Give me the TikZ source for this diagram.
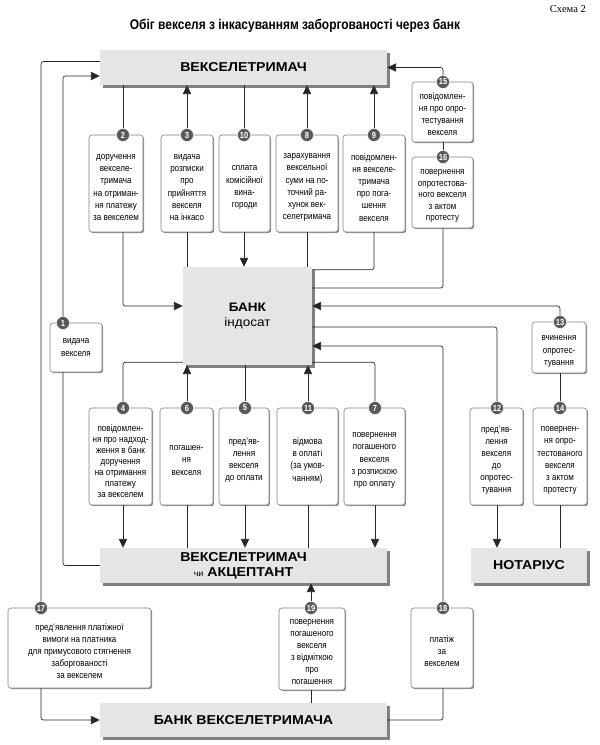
\documentclass[tikz,border=0pt]{standalone}
\usepackage{fontspec}
\setmainfont{Liberation Sans}
\newfontfamily\narrowfont[FakeStretch=0.86]{Liberation Sans}
\newfontfamily\widefont[FakeStretch=1.1]{Liberation Sans}
\newfontfamily\titlefont[FakeStretch=0.85]{Liberation Sans}
\newfontfamily\schemefont{Liberation Serif}
\usetikzlibrary{positioning,calc,shadows,arrows.meta}

\begin{document}
\begin{tikzpicture}[
    x=0.03cm,y=-0.03cm,
    wire/.style={draw=black!85,line width=0.6pt,rounded corners=2pt},
    arr/.style={wire,-{Triangle[length=7.5pt,width=7pt]}},
    sz/.style 2 args={minimum width=#1*0.03cm,minimum height=#2*0.03cm},
    party/.style={fill=black!10,inner sep=1pt,align=center,
      font=\widefont\bfseries\fontsize{11}{12.5}\selectfont,
      drop shadow={shadow xshift=2.2pt,shadow yshift=-2.2pt,fill=black!50,opacity=1}},
    opbox/.style={draw=black!50,fill=white,rounded corners=2.5pt,line width=0.5pt,
      inner sep=0pt,drop shadow={shadow xshift=1pt,shadow yshift=-1pt,fill=black!45,opacity=1}},
    optext/.style={align=center,inner sep=0pt,font=\narrowfont\fontsize{8}{10.3}\selectfont},
    num/.style={circle,fill=black!65,draw=white,line width=0.4pt,text=white,
      inner sep=0pt,minimum size=0.39cm,font=\narrowfont\bfseries\fontsize{7.5}{7.5}\selectfont}
  ]
  \useasboundingbox (0,0) rectangle (600,745);

  \node[anchor=east,font=\schemefont\fontsize{9}{10}\selectfont] (scheme) at (590,9) {Схема 2};
  \node[font=\titlefont\bfseries\fontsize{12}{14}\selectfont] (title) at (295,26)
    {Обіг векселя з інкасуванням заборгованості через банк};

  % main participants
  \node[party,sz={287}{35}] (VT) at (243.5,67.5) {ВЕКСЕЛЕТРИМАЧ};
  \node[party,sz={129}{98},font=\widefont\bfseries\fontsize{10.5}{12.5}\selectfont] (BI)
    at (247.5,316) {БАНК\\{\mdseries індосат}};
  \node[party,sz={287}{35}] (VA) at (243.5,565.5)
    {ВЕКСЕЛЕТРИМАЧ\\{\mdseries\fontsize{7}{8}\selectfont чи} АКЦЕПТАНТ};
  \node[party,sz={116}{35}] (NOT) at (529,565.5) {НОТАРІУС};
  \node[party,sz={287}{34}] (BV) at (243.5,720) {БАНК ВЕКСЕЛЕТРИМАЧА};

  % operations, upper row
  \node[opbox,sz={54}{97}] (n2) at (116,183.5) {};
  \node[optext] (t2) at ($(n2)+(0,4)$)
    {доручення\\векселе-\\тримача\\на отриман-\\ня платежу\\за векселем};
  \node[num] (c2) at (123,135) {2};
  \node[opbox,sz={52}{97}] (n3) at (187,183.5) {};
  \node[optext] (t3) at ($(n3)+(0,4)$)
    {видача\\розписки\\про\\прийняття\\векселя\\на інкасо};
  \node[num] (c3) at (187,135) {3};
  \node[opbox,sz={51}{97}] (n10) at (244.5,183.5) {};
  \node[optext] (t10) at ($(n10)+(0,4)$) {сплата\\комісійної\\вина-\\городи};
  \node[num] (c10) at (244,135) {10};
  \node[opbox,sz={62}{97}] (n8) at (307,183.5) {};
  \node[optext] (t8) at ($(n8)+(0,4)$)
    {зарахування\\вексельної\\суми на по-\\точний ра-\\хунок век-\\селетримача};
  \node[num] (c8) at (307,135) {8};
  \node[opbox,sz={62}{97}] (n9) at (374,183.5) {};
  \node[optext] (t9) at ($(n9)+(0,4)$)
    {повідомлен-\\ня векселе-\\тримача\\про пога-\\шення\\векселя};
  \node[num] (c9) at (374,135) {9};
  \node[opbox,sz={61}{60}] (n15) at (442.5,112) {};
  \node[optext] (t15) at ($(n15)+(0,2)$)
    {повідомлен-\\ня про опро-\\тестування\\векселя};
  \node[num] (c15) at (443,82) {15};
  \node[opbox,sz={61}{71}] (n16) at (442.5,192.5) {};
  \node[optext,font=\narrowfont\fontsize{8}{9.8}\selectfont] (t16) at ($(n16)+(0,3.5)$)
    {повернення\\опротестова-\\ного векселя\\з актом\\протесту};
  \node[num] (c16) at (443,157) {16};

  % operations, middle
  \node[opbox,sz={52}{49}] (n1) at (76,347.5) {};
  \node[optext] (t1) at ($(n1)+(0,0)$) {видача\\векселя};
  \node[num] (c1) at (63,323) {1};
  \node[opbox,sz={54}{51}] (n13) at (559,347.5) {};
  \node[optext] (t13) at ($(n13)+(0,4)$) {вчинення\\опротес-\\тування};
  \node[num] (c13) at (560,322) {13};

  % operations, lower row
  \node[opbox,sz={63}{97}] (n4) at (120.5,456.5) {};
  \node[optext,font=\narrowfont\fontsize{8}{9.4}\selectfont] (t4) at ($(n4)+(0,5)$)
    {повідомлен-\\ня про надход-\\ження в банк\\доручення\\на отримання\\платежу\\за векселем};
  \node[num] (c4) at (123,408) {4};
  \node[opbox,sz={53}{97}] (n6) at (186.5,456.5) {};
  \node[optext] (t6) at ($(n6)+(0,4)$) {погашен-\\ня\\векселя};
  \node[num] (c6) at (187,408) {6};
  \node[opbox,sz={50}{97}] (n5) at (244,456.5) {};
  \node[optext] (t5) at ($(n5)+(0,4)$) {пред’яв-\\лення\\векселя\\до оплати};
  \node[num] (c5) at (245,408) {5};
  \node[opbox,sz={61}{97}] (n11) at (307.5,456.5) {};
  \node[optext] (t11) at ($(n11)+(0,4)$) {відмова\\в оплаті\\(за умов-\\чанням)};
  \node[num] (c11) at (308,408) {11};
  \node[opbox,sz={61}{97}] (n7) at (374.5,456.5) {};
  \node[optext] (t7) at ($(n7)+(0,4)$)
    {повернення\\погашеного\\векселя\\з розпискою\\про оплату};
  \node[num] (c7) at (375,408) {7};
  \node[opbox,sz={53}{97}] (n12) at (496.5,456.5) {};
  \node[optext] (t12) at ($(n12)+(0,4)$)
    {пред’яв-\\лення\\векселя\\до\\опротес-\\тування};
  \node[num] (c12) at (497,408) {12};
  \node[opbox,sz={54}{97}] (n14) at (560,456.5) {};
  \node[optext] (t14) at ($(n14)+(0,4)$)
    {повернен-\\ня опро-\\тестованого\\векселя\\з актом\\протесту};
  \node[num] (c14) at (560,408) {14};

  % operations, bottom row
  \node[opbox,sz={143}{80}] (n17) at (79.5,648) {};
  \node[optext] (t17) at ($(n17)+(0,3)$)
    {пред’явлення платіжної\\вимоги на платника\\для примусового стягнення\\заборгованості\\за векселем};
  \node[num] (c17) at (41,608) {17};
  \node[opbox,sz={66}{82}] (n19) at (312,649) {};
  \node[optext] (t19) at ($(n19)+(0,3)$)
    {повернення\\погашеного\\векселя\\з відміткою\\про\\погашення};
  \node[num] (c19) at (311,608) {19};
  \node[opbox,sz={62}{80}] (n18) at (442,648) {};
  \node[optext] (t18) at ($(n18)+(0,3)$) {платіж\\за\\векселем};
  \node[num] (c18) at (443,608) {18};

  % connectors
  \draw[arr] (c1.north) |- ($(VT.west)+(0,8.5)$);
  \draw[wire] (n1.south -| c1) |- (VA.west);
  \draw[wire] ($(VT.west)+(0,-6)$) -| (c17.north);
  \draw[arr] (n17.south -| c17) |- (BV.west);
  \draw[wire] (VT.south -| c2) -- (c2.north);
  \draw[arr] (n2.south -| c2) |- ($(BI.west)+(0,-10)$);
  \draw[wire] (BI.north -| c3) -- (n3.south -| c3);
  \draw[arr] (c3.north) -- (VT.south -| c3);
  \draw[wire] (VT.south -| c10) -- (c10.north);
  \draw[arr] (n10.south -| c10) -- (BI.north -| c10);
  \draw[wire] (BI.north -| c8) -- (n8.south -| c8);
  \draw[arr] (c8.north) -- (VT.south -| c8);
  \draw[wire] ($(BI.north east)+(0,3)$) -| (n9.south -| c9);
  \draw[arr] (c9.north) -- (VT.south -| c9);
  \draw[wire] ($(BI.east)+(0,-28)$) -| (n16.south -| c16);
  \draw[wire] (c16.north) -- (n15.south -| c15);
  \draw[arr] (c15.north) |- (VT.east);
  \draw[wire] (NOT.north -| c14) -- (n14.south -| c14);
  \draw[wire] (c14.north) -- (n13.south -| c13);
  \draw[arr] (c13.north) |- ($(BI.east)+(0,-10)$);
  \draw[wire] ($(BI.east)+(0,11)$) -| (c12.north);
  \draw[arr] (n12.south -| c12) -- (NOT.north -| c12);
  \draw[wire] (BV.east) -| (n18.south -| c18);
  \draw[arr] (c18.north) |- ($(BI.east)+(0,30)$);
  \draw[wire] ($(BI.south west)+(0,-3)$) -| (c4.north);
  \draw[arr] (n4.south -| c4) -- (VA.north -| c4);
  \draw[wire] (VA.north -| c6) -- (n6.south -| c6);
  \draw[arr] (c6.north) -- (BI.south -| c6);
  \draw[wire] (BI.south -| c5) -- (c5.north);
  \draw[arr] (n5.south -| c5) -- (VA.north -| c5);
  \draw[wire] (VA.north -| c11) -- (n11.south -| c11);
  \draw[arr] (c11.north) -- (BI.south -| c11);
  \draw[wire] ($(BI.south east)+(0,-3)$) -| (c7.north);
  \draw[arr] (n7.south -| c7) -- (VA.north -| c7);
  \draw[wire] (BV.north -| c19) -- (n19.south -| c19);
  \draw[arr] (c19.north) -- (VA.south -| c19);
\end{tikzpicture}
\end{document}
